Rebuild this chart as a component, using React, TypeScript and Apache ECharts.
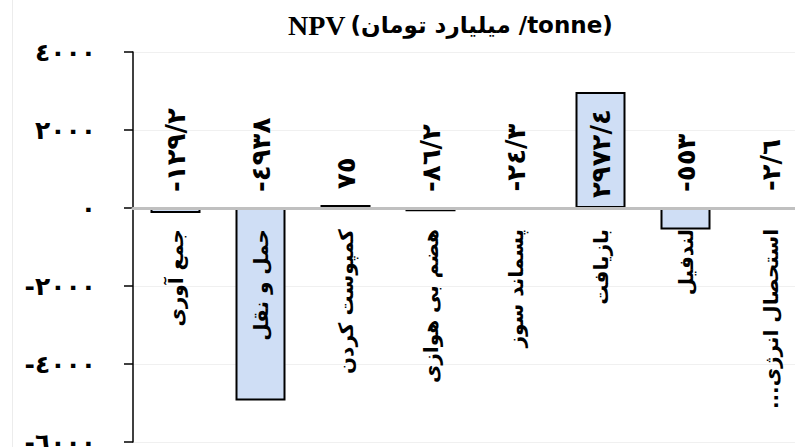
import React, { useEffect, useRef } from "react";
import * as echarts from "echarts";

const categories = [
  "جمع آوری",
  "حمل و نقل",
  "کمپوست کردن",
  "هضم بی هوازی",
  "پسماند سوز",
  "بازیافت",
  "لندفیل",
  "استحصال انرژی...\u200F",
];
const npvValues = [-129.2, -4938, 75, -86.2, -24.3, 2972.4, -553, -2.6];
const yMin = -6000;
const yMax = 4000;
const yStep = 2000;
const titleMain = "NPV";
const titleUnit = "(میلیارد تومان /tonne)";

const toArabic = (s: string) =>
  s
    .replace(/[0-9]/g, (d) => String.fromCharCode(0x0660 + Number(d)))
    .replace(".", "/");

const GRID_TOP = 52;
const GRID_H = 390;

export default function App() {
  const ref = useRef<HTMLDivElement>(null);
  useEffect(() => {
    if (!ref.current) return;
    const chart = echarts.init(ref.current, undefined, { renderer: "svg" });
    // distance of zero line above the grid bottom (derived from the axis range)
    const zeroOffset = (GRID_H * (0 - yMin)) / (yMax - yMin);
    const labelBase = {
      show: true,
      rotate: 90,
      align: "left",
      verticalAlign: "middle",
      fontFamily: "DejaVu Sans",
      fontWeight: "bold",
      fontSize: 26,
      color: "#000",
      formatter: (p: any) => toArabic(String(p.value)),
    };
    chart.setOption({
      animation: false,
      backgroundColor: "#fff",
      title: {
        left: 283,
        top: 6,
        text: `{a|${titleMain}} {b|${titleUnit}}`,
        textStyle: {
          rich: {
            a: {
              fontFamily: "Liberation Serif",
              fontWeight: "bold",
              fontSize: 28,
              color: "#000",
            },
            b: {
              fontFamily: "DejaVu Sans",
              fontSize: 23,
              color: "#000",
            },
          },
        },
      },
      graphic: [
        {
          type: "line",
          shape: { x1: 12.5, y1: 0, x2: 12.5, y2: 447 },
          style: { stroke: "#ececec", lineWidth: 1 },
        },
      ],
      grid: {
        left: 133,
        top: GRID_TOP,
        width: 680,
        height: GRID_H,
        containLabel: false,
        outerBoundsMode: "none",
      },
      xAxis: {
        type: "category",
        data: categories,
        position: "bottom",
        offset: -zeroOffset,
        z: 10,
        axisLine: { onZero: false, lineStyle: { color: "#c0c0c0", width: 3 } },
        axisTick: { show: false },
        axisLabel: {
          interval: 0,
          rotate: 90,
          margin: 21,
          fontFamily: "DejaVu Sans",
          fontWeight: "bold",
          fontSize: 20,
          color: "#000",
        },
      },
      yAxis: {
        type: "value",
        min: yMin,
        max: yMax,
        interval: yStep,
        axisLine: { show: true, lineStyle: { color: "#000", width: 1.5 } },
        axisTick: { show: true, length: 9, lineStyle: { color: "#000", width: 1.5 } },
        splitLine: { show: true, lineStyle: { color: "#f0f0f0", width: 1 } },
        axisLabel: {
          margin: 37,
          fontFamily: "DejaVu Sans",
          fontWeight: "bold",
          fontSize: 25,
          color: "#000",
          formatter: (v: number) => toArabic(String(v)),
        },
      },
      series: [
        {
          type: "bar",
          barWidth: 50,
          itemStyle: { color: "#cfdef5", borderColor: "#000", borderWidth: 2 },
          label: labelBase,
          data: npvValues.map((v) => ({
            value: v,
            label:
              v > 1000
                ? { position: "insideBottom", distance: 10 }
                : { position: "top", distance: 16 },
          })),
        },
      ],
    });
    return () => chart.dispose();
  }, []);
  return (
    <div
      ref={ref}
      style={{ position: "fixed", left: 0, top: 0, width: 795, height: 447 }}
    />
  );
}
